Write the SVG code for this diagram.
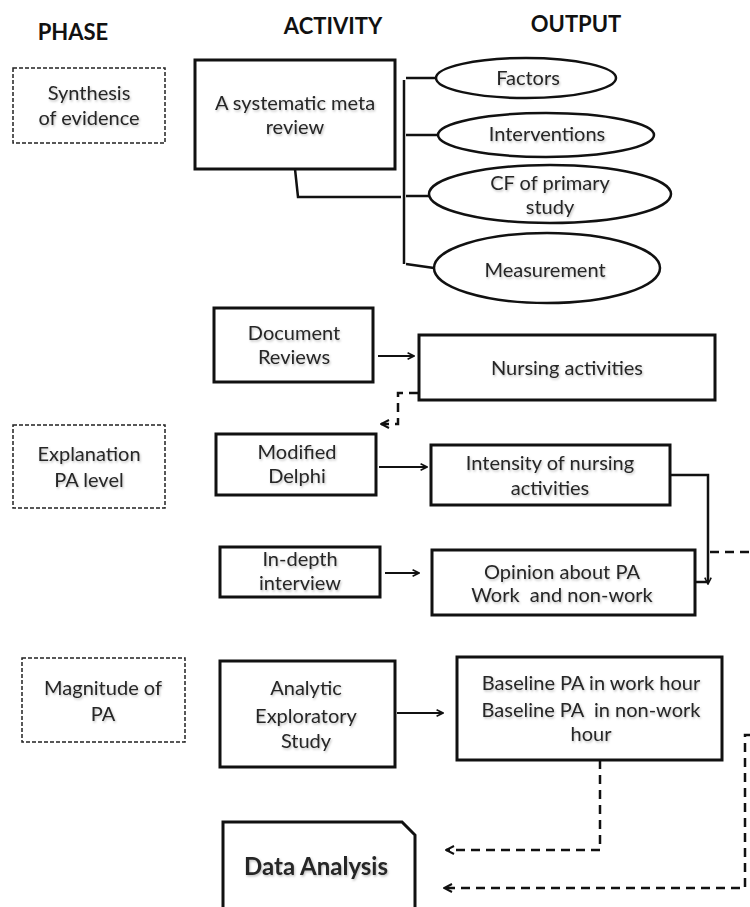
<svg xmlns="http://www.w3.org/2000/svg" width="750" height="907" viewBox="0 0 750 907">
<style>
text{font-family:Lato,"Open Sans","Liberation Sans",sans-serif;font-size:20px;fill:#262626;text-anchor:middle;filter:url(#s)}
.h{font-weight:bold;font-size:22px;fill:#111;filter:none}
.box{fill:#fff;stroke:#111;stroke-width:3}
.ph{fill:#fff;stroke:#222;stroke-width:1.5;stroke-dasharray:4 2}
.el{fill:#fff;stroke:#111;stroke-width:2.5}
.ln{fill:none;stroke:#111;stroke-width:2.5}
.ar{fill:none;stroke:#111;stroke-width:2;marker-end:url(#a)}
.da{fill:none;stroke:#111;stroke-width:2.5;stroke-dasharray:9 6}
.dar{fill:none;stroke:#111;stroke-width:2.5;stroke-dasharray:9 6;marker-end:url(#a)}
</style>
<defs>
<filter id="s" x="-10%" y="-30%" width="120%" height="160%">
<feDropShadow dx="1" dy="1.5" stdDeviation="1" flood-color="#000" flood-opacity="0.25"/>
</filter>
<marker id="a" viewBox="0 0 10 10" refX="9" refY="5" markerWidth="4" markerHeight="4" orient="auto" markerUnits="strokeWidth">
<polyline points="1,1 9,5 1,9" fill="none" stroke="#111" stroke-width="2" stroke-dasharray="none"/>
</marker>
</defs>
<rect width="750" height="907" fill="#fff"/>
<g id="headers">
<text class="h" x="73" y="40">PHASE</text>
<text class="h" x="333" y="34">ACTIVITY</text>
<text class="h" x="576" y="32">OUTPUT</text>
</g>
<g id="connectors">
<path class="ln" d="M404,80 V264"/>
<path class="ln" d="M406,78 H437"/>
<path class="ln" d="M406,135 H438"/>
<path class="ln" d="M406,196 H429"/>
<path class="ln" d="M406,264 L434,268"/>
<path class="ln" d="M295,169 L298,197 H401"/>
<path class="ar" d="M378,356 H414"/>
<path class="dar" d="M418,393 H398 V424 H381"/>
<path class="ar" d="M379,467 H427"/>
<path class="ln" d="M669,475 H708 V579"/>
<path class="ar" d="M708,572 V584"/>
<path class="ln" d="M696,582 H708"/>
<path class="da" d="M710,552 H750"/>
<path class="ar" d="M385,573 H419"/>
<path class="ar" stroke-width="1.5" d="M397,713 H443"/>
<path class="dar" d="M600,760 V850 H446"/>
<path class="dar" d="M752,735 H745 V888 H444"/>
</g>
<g id="synthesis">
<rect class="ph" x="13" y="68" width="152" height="75"/>
<text x="89" y="100">Synthesis</text>
<text x="89" y="125">of evidence</text>
</g>
<g id="meta-review">
<rect class="box" x="195" y="60" width="200" height="109"/>
<text x="295" y="110">A systematic meta</text>
<text x="295" y="134">review</text>
</g>
<g id="factors">
<ellipse class="el" cx="526" cy="78" rx="90" ry="20"/>
<text x="528" y="85">Factors</text>
</g>
<g id="interventions">
<ellipse class="el" cx="546" cy="135" rx="108" ry="22"/>
<text x="547" y="141">Interventions</text>
</g>
<g id="cf-primary">
<ellipse class="el" cx="550" cy="194" rx="121" ry="29"/>
<text x="550" y="190">CF of primary</text>
<text x="550" y="214">study</text>
</g>
<g id="measurement">
<ellipse class="el" cx="547" cy="268" rx="113" ry="35"/>
<text x="545" y="277">Measurement</text>
</g>
<g id="document-reviews">
<rect class="box" x="214" y="308" width="159" height="74"/>
<text x="294" y="340">Document</text>
<text x="294" y="364">Reviews</text>
</g>
<g id="nursing-activities">
<rect class="box" x="419" y="335" width="296" height="65"/>
<text x="567" y="375">Nursing activities</text>
</g>
<g id="explanation">
<rect class="ph" x="13" y="425" width="152" height="83"/>
<text x="89" y="461">Explanation</text>
<text x="89" y="487">PA level</text>
</g>
<g id="modified-delphi">
<rect class="box" x="216" y="434" width="160" height="61"/>
<text x="297" y="459">Modified</text>
<text x="297" y="483">Delphi</text>
</g>
<g id="intensity">
<rect class="box" x="431" y="445" width="239" height="60"/>
<text x="550" y="470">Intensity of nursing</text>
<text x="550" y="495">activities</text>
</g>
<g id="in-depth">
<rect class="box" x="220" y="547" width="160" height="50"/>
<text x="300" y="566">In-depth</text>
<text x="300" y="590">interview</text>
</g>
<g id="opinion">
<rect class="box" x="432" y="550" width="263" height="65"/>
<text x="562" y="579">Opinion about PA</text>
<text x="562" y="602" xml:space="preserve">Work  and non-work</text>
</g>
<g id="magnitude">
<rect class="ph" x="22" y="658" width="163" height="84"/>
<text x="103" y="695">Magnitude of</text>
<text x="103" y="721">PA</text>
</g>
<g id="analytic">
<rect class="box" x="220" y="661" width="175" height="106"/>
<text x="306" y="695">Analytic</text>
<text x="306" y="723">Exploratory</text>
<text x="306" y="748">Study</text>
</g>
<g id="baseline">
<rect class="box" x="457" y="657" width="265" height="103"/>
<text x="591" y="690">Baseline PA in work hour</text>
<text x="591" y="717" xml:space="preserve">Baseline PA  in non-work</text>
<text x="591" y="741">hour</text>
</g>
<g id="data-analysis">
<path class="box" d="M223,910 V822 H402 L415,835 V910"/>
<text x="316" y="875" style="font-weight:bold;font-size:24px">Data Analysis</text>
</g>
</svg>
